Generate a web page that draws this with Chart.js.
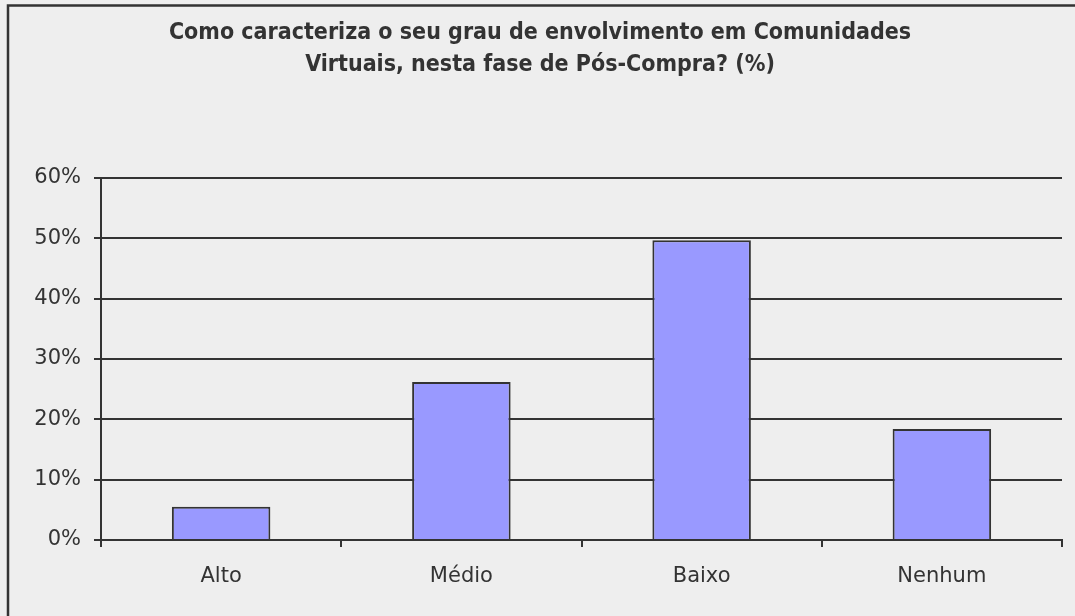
<!DOCTYPE html>
<html>
<head>
<meta charset="utf-8">
<script src="https://cdn.jsdelivr.net/npm/chart.js@4.4.1/dist/chart.umd.min.js"></script>
<style>
  html, body { margin: 0; padding: 0; background: #eeeeee; overflow: hidden; }
  #wrap { position: relative; width: 1075px; height: 616px; }
</style>
</head>
<body>
<div id="wrap"><canvas id="chart" width="1075" height="616"></canvas></div>
<script>
// Survey answers: degree of involvement in virtual communities after purchase
const categories = ['Alto', 'Médio', 'Baixo', 'Nenhum'];
const shares = [5.5, 26.2, 49.7, 18.4];
const yTicks = [0, 10, 20, 30, 40, 50, 60];
const titleLines = [
  'Como caracteriza o seu grau de envolvimento em Comunidades',
  'Virtuais, nesta fase de Pós-Compra? (%)'
];

const ink = '#333333';

// Light grey panel with a dark frame around the whole chart
const framePlugin = {
  id: 'frame',
  beforeDraw(chart) {
    const c = chart.ctx;
    c.save();
    c.fillStyle = '#eeeeee';
    c.fillRect(0, 0, chart.width, chart.height);
    c.strokeStyle = ink;
    c.lineWidth = 2.5;
    c.beginPath();
    c.moveTo(8, chart.height + 10);
    c.lineTo(8, 5.5);
    c.lineTo(chart.width + 10, 5.5);
    c.stroke();
    c.restore();
  }
};

new Chart(document.getElementById('chart'), {
  type: 'bar',
  data: {
    labels: categories,
    datasets: [{
      data: shares,
      backgroundColor: '#9999ff',
      borderColor: ink,
      borderWidth: 2,
      barPercentage: 0.41,
      categoryPercentage: 1.0
    }]
  },
  options: {
    responsive: false,
    animation: false,
    events: [],
    layout: { padding: { left: 18, right: 13, top: 0, bottom: 0 } },
    plugins: {
      legend: { display: false },
      tooltip: { enabled: false },
      title: {
        display: true,
        text: titleLines,
        color: ink,
        font: { family: "'DejaVu Sans Condensed', 'DejaVu Sans', sans-serif", size: 23, weight: 'bold', lineHeight: 32 / 23 },
        padding: { top: 17, bottom: 97 }
      }
    },
    scales: {
      x: {
        offset: true,
        grid: { offset: true, drawOnChartArea: false, drawTicks: true, tickLength: 7, color: ink, lineWidth: 2 },
        border: { display: true, color: ink, width: 2 },
        ticks: { color: ink, padding: 17, font: { family: "'DejaVu Sans', sans-serif", size: 21 } },
        afterFit(scale) { scale.height = 76; }
      },
      y: {
        min: 0,
        max: 60,
        afterBuildTicks(scale) { scale.ticks = yTicks.map(v => ({ value: v })); },
        grid: { drawOnChartArea: true, drawTicks: true, tickLength: 7, color: ink, lineWidth: 2 },
        border: { display: true, color: ink, width: 2 },
        ticks: {
          color: ink,
          padding: 13,
          font: { family: "'DejaVu Sans', sans-serif", size: 21 },
          callback: v => v + '%'
        },
        afterFit(scale) { scale.width = 83; }
      }
    }
  },
  plugins: [framePlugin]
});
</script>
</body>
</html>
